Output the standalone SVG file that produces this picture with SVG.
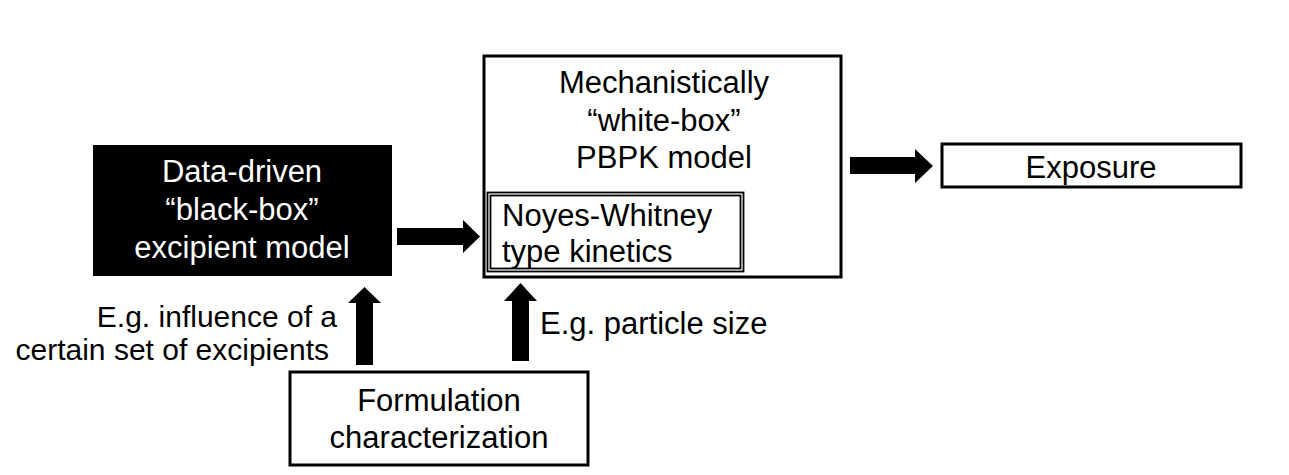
<svg xmlns="http://www.w3.org/2000/svg" width="1289" height="475" viewBox="0 0 1289 475">
<style>
text{font-family:"Liberation Sans",Arial,sans-serif;font-size:31px;fill:#000}
.c{text-anchor:middle}
.w{fill:#fff}
.lab{font-size:30px;text-anchor:end}
.box{fill:#fff;stroke:#000;stroke-width:3}
.thin{fill:none;stroke:#000;stroke-width:1.8}
.arr{fill:#000}
</style>
<rect width="1289" height="475" fill="#fff"/>
<g id="blackbox">
<rect x="93" y="145" width="299" height="131" fill="#000"/>
<text class="c w" x="242" y="182">Data-driven</text>
<text class="c w" x="242" y="220">“black-box”</text>
<text class="c w" x="242" y="258">excipient model</text>
</g>
<g id="pbpk">
<rect class="box" x="484" y="56" width="357" height="221"/>
<text class="c" x="664" y="93">Mechanistically</text>
<text class="c" x="664" y="131">“white-box”</text>
<text class="c" x="664" y="168">PBPK model</text>
</g>
<g id="noyes">
<rect class="thin" x="487.5" y="192.5" width="256" height="79"/>
<rect class="thin" x="490.5" y="195.5" width="250" height="73"/>
<text x="502" y="226">Noyes-Whitney</text>
<text x="502" y="262">type kinetics</text>
</g>
<g id="exposure">
<rect class="box" x="942" y="144" width="299" height="43"/>
<text class="c" x="1091" y="178">Exposure</text>
</g>
<g id="formulation">
<rect class="box" x="290" y="372" width="298" height="93"/>
<text class="c" x="439" y="411">Formulation</text>
<text class="c" x="439" y="448">characterization</text>
</g>
<g id="labels">
<text class="lab" x="337" y="327">E.g. influence of a</text>
<text class="lab" x="329" y="360">certain set of excipients</text>
<text x="540" y="334">E.g. particle size</text>
</g>
<g id="connectors">
<polygon class="arr" points="397,228 463,228 463,220 480,236.5 463,253 463,245 397,245"/>
<polygon class="arr" points="850,157 915,157 915,149 933,166 915,183 915,174 850,174"/>
<polygon class="arr" points="356,365 356,303 348,303 364.5,287 381,303 373,303 373,365"/>
<polygon class="arr" points="512,361 512,301 504,301 520.5,283 537,301 529,301 529,361"/>
</g>
</svg>
